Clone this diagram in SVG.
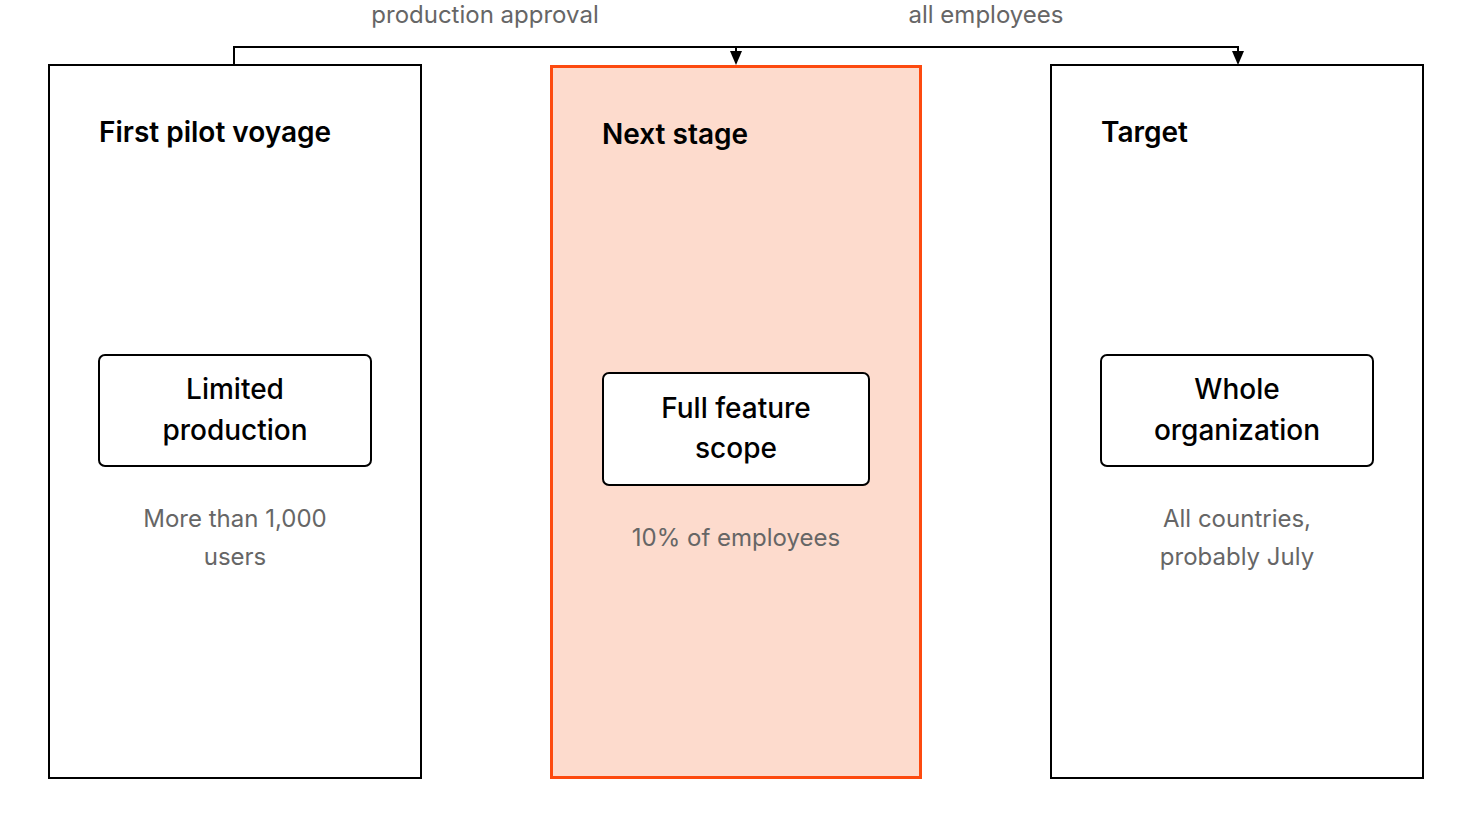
<svg xmlns="http://www.w3.org/2000/svg" width="1472" height="828" viewBox="0 0 1472 828">
<defs>
<style>
.col{fill:#fff;stroke:#000;stroke-width:2}
.hl{fill:#fddbcd;stroke:#fd4a0f;stroke-width:3}
.box{fill:#fff;stroke:#000;stroke-width:2}
.title{font-family:Inter,"Noto Sans",sans-serif;font-size:28px;font-weight:600;fill:#000}
.inner{font-family:Inter,"Noto Sans",sans-serif;font-size:28px;font-weight:500;fill:#000;text-anchor:middle}
.note{font-family:Inter,"Noto Sans",sans-serif;font-size:24px;fill:#666;text-anchor:middle}
.edge{fill:none;stroke:#000;stroke-width:2}
</style>
<marker id="ah" markerWidth="12" markerHeight="14" refX="6" refY="14" orient="auto" markerUnits="userSpaceOnUse" viewBox="0 0 12 14">
<path d="M0,0 L12,0 L6,14 Z" fill="#000" transform="rotate(0)"/>
</marker>
</defs>
<rect width="1472" height="828" fill="#fff"/>
<g id="connectors">
<path class="edge" d="M234,65 V47 H736 V51"/>
<path d="M730,51 L742,51 L736,65 Z"/>
<path class="edge" d="M736,47 H1238 V51"/>
<path d="M1232,51 L1244,51 L1238,65 Z"/>
<text class="note" x="485" y="23">production approval</text>
<text class="note" x="986" y="23">all employees</text>
</g>
<g id="pilot">
<rect class="col" x="49" y="65" width="372" height="713"/>
<text class="title" x="99" y="142">First pilot voyage</text>
<rect class="box" x="99" y="355" width="272" height="111" rx="6"/>
<text class="inner" x="235" y="399">Limited</text>
<text class="inner" x="235" y="440">production</text>
<text class="note" x="235" y="527">More than 1,000</text>
<text class="note" x="235" y="565">users</text>
</g>
<g id="next">
<rect class="hl" x="551.5" y="66.5" width="369" height="711"/>
<text class="title" x="602" y="144">Next stage</text>
<rect class="box" x="603" y="373" width="266" height="112" rx="6"/>
<text class="inner" x="736" y="418">Full feature</text>
<text class="inner" x="736" y="458">scope</text>
<text class="note" x="736" y="546">10% of employees</text>
</g>
<g id="target">
<rect class="col" x="1051" y="65" width="372" height="713"/>
<text class="title" x="1101" y="142">Target</text>
<rect class="box" x="1101" y="355" width="272" height="111" rx="6"/>
<text class="inner" x="1237" y="399">Whole</text>
<text class="inner" x="1237" y="440">organization</text>
<text class="note" x="1237" y="527">All countries,</text>
<text class="note" x="1237" y="565">probably July</text>
</g>
</svg>
